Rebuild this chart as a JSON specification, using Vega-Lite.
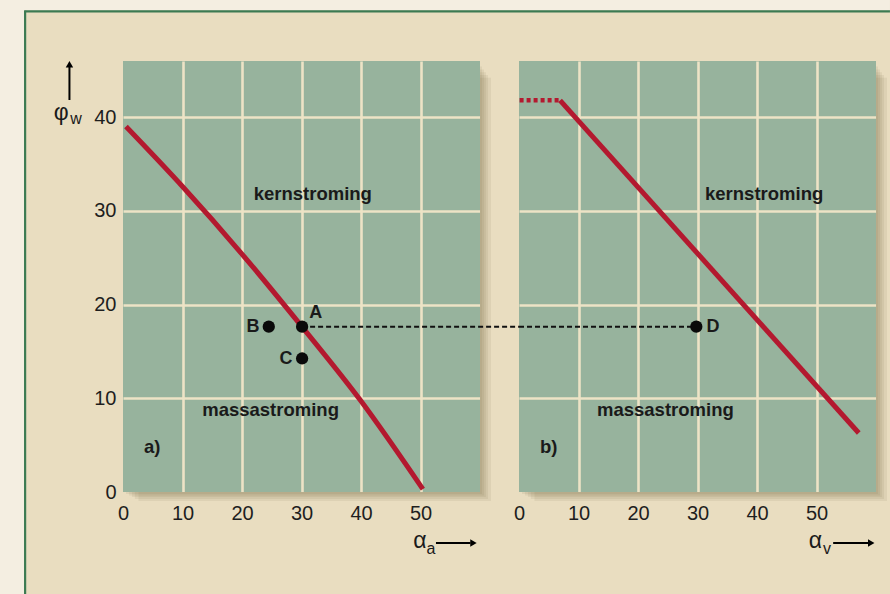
{
  "$schema": "https://vega.github.io/schema/vega-lite/v6.json",
  "background": "#e9ddc0",
  "padding": 0,
  "bounds": "flush",
  "spacing": 39,
  "config": {
    "view": {"fill": "#97b39d", "stroke": null},
    "font": "Liberation Sans, Arial, sans-serif",
    "axis": {
      "title": null,
      "domain": false,
      "ticks": false,
      "labelFlush": false,
      "labelFont": "Liberation Sans, Arial, sans-serif",
      "labelFontSize": 20,
      "labelColor": "#1e1e1e",
      "gridColor": "#ede3c6",
      "gridWidth": 2.6,
      "gridOpacity": {"condition": {"test": "datum.value === 0", "value": 0}, "value": 1}
    },
    "text": {"font": "Liberation Sans, Arial, sans-serif", "color": "#1a1a1a"}
  },
  "datasets": {
    "one": [{"k": 1}],
    "curveA": [
      {"x": 0.5, "y": 39.0},
      {"x": 10, "y": 32.6},
      {"x": 20, "y": 25.4},
      {"x": 30, "y": 17.7},
      {"x": 40, "y": 9.7},
      {"x": 50.4, "y": 0.3}
    ],
    "solidB": [
      {"x": 6.9, "y": 41.8},
      {"x": 57.1, "y": 6.3}
    ],
    "dottedB": [
      {"x": 0.1, "y": 41.8},
      {"x": 6.9, "y": 41.8}
    ],
    "pointsA": [
      {"x": 30.1, "y": 17.65, "name": "A"},
      {"x": 24.5, "y": 17.65, "name": "B"},
      {"x": 30.1, "y": 14.25, "name": "C"}
    ],
    "pointsB": [
      {"x": 29.8, "y": 17.65, "name": "D"}
    ],
    "lettersA": [
      {"x": 32.4, "y": 19.1, "text": "A"},
      {"x": 21.85, "y": 17.6, "text": "B"},
      {"x": 27.4, "y": 14.2, "text": "C"}
    ],
    "lettersB": [
      {"x": 32.6, "y": 17.6, "text": "D"}
    ],
    "regionsA": [
      {"x": 31.9, "y": 31.8, "text": "kernstroming"},
      {"x": 24.8, "y": 8.75, "text": "massastroming"},
      {"x": 4.9, "y": 4.8, "text": "a)"}
    ],
    "regionsB": [
      {"x": 41.2, "y": 31.8, "text": "kernstroming"},
      {"x": 24.6, "y": 8.75, "text": "massastroming"},
      {"x": 5.0, "y": 4.8, "text": "b)"}
    ]
  },
  "hconcat": [
    {
      "width": 357,
      "height": 431,
      "layer": [
        {"data": {"name": "curveA"}, "mark": {"type": "line", "stroke": "#b3192f", "strokeWidth": 5, "strokeCap": "butt", "interpolate": "monotone"},
         "encoding": {
           "x": {"field": "x", "type": "quantitative", "scale": {"domain": [0, 60], "nice": false, "zero": false},
                 "axis": {"values": [0, 10, 20, 30, 40, 50], "labelPadding": 11}},
           "y": {"field": "y", "type": "quantitative", "scale": {"domain": [0, 46], "nice": false, "zero": false},
                 "axis": {"values": [0, 10, 20, 30, 40], "labelPadding": 7}}
         }},
        {"data": {"name": "one"}, "mark": {"type": "rect", "fill": "#f4eee1"},
         "encoding": {"x": {"datum": -20.67, "type": "quantitative"}, "x2": {"datum": -16.6}, "y": {"datum": -10.88, "type": "quantitative"}, "y2": {"datum": 52.51}}},
        {"data": {"name": "one"}, "mark": {"type": "rect", "fill": "#f4eee1"},
         "encoding": {"x": {"datum": -20.67, "type": "quantitative"}, "x2": {"datum": 128.9}, "y": {"datum": 51.4, "type": "quantitative"}, "y2": {"datum": 52.51}}},
        {"data": {"name": "one"}, "mark": {"type": "rule", "stroke": "#3c7a52", "strokeWidth": 2.2},
         "encoding": {"x": {"datum": -16.45, "type": "quantitative"}, "y": {"datum": -10.88, "type": "quantitative"}, "y2": {"datum": 51.35}}},
        {"data": {"name": "one"}, "mark": {"type": "rule", "stroke": "#3c7a52", "strokeWidth": 2.2},
         "encoding": {"x": {"datum": -16.6, "type": "quantitative"}, "x2": {"datum": 128.9}, "y": {"datum": 51.3, "type": "quantitative"}}},

        {"data": {"name": "one"}, "mark": {"type": "rect", "fill": "#5b4a2c", "opacity": 0.08},
         "encoding": {"x": {"datum": 60, "type": "quantitative"}, "x2": {"datum": 61.85}, "y": {"datum": -0.96, "type": "quantitative"}, "y2": {"datum": 44.2}}},
        {"data": {"name": "one"}, "mark": {"type": "rect", "fill": "#5b4a2c", "opacity": 0.08},
         "encoding": {"x": {"datum": 60, "type": "quantitative"}, "x2": {"datum": 61.35}, "y": {"datum": -0.75, "type": "quantitative"}, "y2": {"datum": 44.5}}},
        {"data": {"name": "one"}, "mark": {"type": "rect", "fill": "#5b4a2c", "opacity": 0.08},
         "encoding": {"x": {"datum": 60, "type": "quantitative"}, "x2": {"datum": 61.0}, "y": {"datum": -0.53, "type": "quantitative"}, "y2": {"datum": 44.8}}},
        {"data": {"name": "one"}, "mark": {"type": "rect", "fill": "#5b4a2c", "opacity": 0.08},
         "encoding": {"x": {"datum": 60, "type": "quantitative"}, "x2": {"datum": 60.67}, "y": {"datum": -0.37, "type": "quantitative"}, "y2": {"datum": 45.1}}},
        {"data": {"name": "one"}, "mark": {"type": "rect", "fill": "#5b4a2c", "opacity": 0.08},
         "encoding": {"x": {"datum": 60, "type": "quantitative"}, "x2": {"datum": 60.34}, "y": {"datum": -0.21, "type": "quantitative"}, "y2": {"datum": 45.4}}},
        {"data": {"name": "one"}, "mark": {"type": "rect", "fill": "#5b4a2c", "opacity": 0.08},
         "encoding": {"x": {"datum": 2.6, "type": "quantitative"}, "x2": {"datum": 60}, "y": {"datum": -0.96, "type": "quantitative"}, "y2": {"datum": 0}}},
        {"data": {"name": "one"}, "mark": {"type": "rect", "fill": "#5b4a2c", "opacity": 0.08},
         "encoding": {"x": {"datum": 2.0, "type": "quantitative"}, "x2": {"datum": 60}, "y": {"datum": -0.75, "type": "quantitative"}, "y2": {"datum": 0}}},
        {"data": {"name": "one"}, "mark": {"type": "rect", "fill": "#5b4a2c", "opacity": 0.08},
         "encoding": {"x": {"datum": 1.5, "type": "quantitative"}, "x2": {"datum": 60}, "y": {"datum": -0.53, "type": "quantitative"}, "y2": {"datum": 0}}},
        {"data": {"name": "one"}, "mark": {"type": "rect", "fill": "#5b4a2c", "opacity": 0.08},
         "encoding": {"x": {"datum": 1.0, "type": "quantitative"}, "x2": {"datum": 60}, "y": {"datum": -0.37, "type": "quantitative"}, "y2": {"datum": 0}}},
        {"data": {"name": "one"}, "mark": {"type": "rect", "fill": "#5b4a2c", "opacity": 0.08},
         "encoding": {"x": {"datum": 0.5, "type": "quantitative"}, "x2": {"datum": 60}, "y": {"datum": -0.21, "type": "quantitative"}, "y2": {"datum": 0}}},

        {"data": {"name": "one"}, "mark": {"type": "rule", "stroke": "#111111", "strokeWidth": 2, "strokeDash": [5, 3]},
         "encoding": {"x": {"datum": 30.1, "type": "quantitative"}, "x2": {"datum": 66.55}, "y": {"datum": 17.65, "type": "quantitative"}}},
        {"data": {"name": "pointsA"}, "mark": {"type": "point", "filled": true, "fill": "#0a0a0a", "size": 150, "opacity": 1},
         "encoding": {"x": {"field": "x", "type": "quantitative"}, "y": {"field": "y", "type": "quantitative"}}},
        {"data": {"name": "lettersA"}, "mark": {"type": "text", "fontSize": 18, "fontWeight": "bold", "align": "center", "baseline": "middle"},
         "encoding": {"x": {"field": "x", "type": "quantitative"}, "y": {"field": "y", "type": "quantitative"}, "text": {"field": "text"}}},
        {"data": {"name": "regionsA"}, "mark": {"type": "text", "fontSize": 18.5, "fontWeight": "bold", "align": "center", "baseline": "middle"},
         "encoding": {"x": {"field": "x", "type": "quantitative"}, "y": {"field": "y", "type": "quantitative"}, "text": {"field": "text"}}},

        {"data": {"name": "one"}, "mark": {"type": "text", "text": "φ", "fontSize": 23, "align": "center", "baseline": "alphabetic"},
         "encoding": {"x": {"datum": -10.4, "type": "quantitative"}, "y": {"datum": 39.75, "type": "quantitative"}}},
        {"data": {"name": "one"}, "mark": {"type": "text", "text": "w", "fontSize": 16, "align": "center", "baseline": "alphabetic"},
         "encoding": {"x": {"datum": -7.9, "type": "quantitative"}, "y": {"datum": 39.3, "type": "quantitative"}}},
        {"data": {"name": "one"}, "mark": {"type": "rule", "stroke": "#000000", "strokeWidth": 2},
         "encoding": {"x": {"datum": -9.0, "type": "quantitative"}, "y": {"datum": 41.84, "type": "quantitative"}, "y2": {"datum": 45.4}}},
        {"data": {"name": "one"}, "mark": {"type": "point", "shape": "triangle-up", "filled": true, "fill": "#000000", "size": 55, "opacity": 1},
         "encoding": {"x": {"datum": -9.0, "type": "quantitative"}, "y": {"datum": 45.65, "type": "quantitative"}}},

        {"data": {"name": "one"}, "mark": {"type": "text", "text": "α", "fontSize": 23, "align": "center", "baseline": "alphabetic"},
         "encoding": {"x": {"datum": 49.9, "type": "quantitative"}, "y": {"datum": -5.98, "type": "quantitative"}}},
        {"data": {"name": "one"}, "mark": {"type": "text", "text": "a", "fontSize": 16, "align": "center", "baseline": "alphabetic"},
         "encoding": {"x": {"datum": 51.76, "type": "quantitative"}, "y": {"datum": -6.62, "type": "quantitative"}}},
        {"data": {"name": "one"}, "mark": {"type": "rule", "stroke": "#000000", "strokeWidth": 2},
         "encoding": {"x": {"datum": 52.6, "type": "quantitative"}, "x2": {"datum": 58.4}, "y": {"datum": -5.44, "type": "quantitative"}}},
        {"data": {"name": "one"}, "mark": {"type": "point", "shape": "triangle-right", "filled": true, "fill": "#000000", "size": 55, "opacity": 1},
         "encoding": {"x": {"datum": 58.9, "type": "quantitative"}, "y": {"datum": -5.44, "type": "quantitative"}}}
      ]
    },
    {
      "width": 357,
      "height": 431,
      "layer": [
        {"data": {"name": "solidB"}, "mark": {"type": "line", "stroke": "#b3192f", "strokeWidth": 5, "strokeCap": "butt"},
         "encoding": {
           "x": {"field": "x", "type": "quantitative", "scale": {"domain": [0, 60], "nice": false, "zero": false},
                 "axis": {"values": [0, 10, 20, 30, 40, 50], "labelPadding": 11}},
           "y": {"field": "y", "type": "quantitative", "scale": {"domain": [0, 46], "nice": false, "zero": false},
                 "axis": {"values": [0, 10, 20, 30, 40], "labels": false}}
         }},
        {"data": {"name": "dottedB"}, "mark": {"type": "line", "stroke": "#b3192f", "strokeWidth": 4.5, "strokeDash": [4, 3], "strokeCap": "butt"},
         "encoding": {"x": {"field": "x", "type": "quantitative"}, "y": {"field": "y", "type": "quantitative"}}},

        {"data": {"name": "one"}, "mark": {"type": "rect", "fill": "#5b4a2c", "opacity": 0.08},
         "encoding": {"x": {"datum": 60, "type": "quantitative"}, "x2": {"datum": 61.85}, "y": {"datum": -0.96, "type": "quantitative"}, "y2": {"datum": 44.2}}},
        {"data": {"name": "one"}, "mark": {"type": "rect", "fill": "#5b4a2c", "opacity": 0.08},
         "encoding": {"x": {"datum": 60, "type": "quantitative"}, "x2": {"datum": 61.35}, "y": {"datum": -0.75, "type": "quantitative"}, "y2": {"datum": 44.5}}},
        {"data": {"name": "one"}, "mark": {"type": "rect", "fill": "#5b4a2c", "opacity": 0.08},
         "encoding": {"x": {"datum": 60, "type": "quantitative"}, "x2": {"datum": 61.0}, "y": {"datum": -0.53, "type": "quantitative"}, "y2": {"datum": 44.8}}},
        {"data": {"name": "one"}, "mark": {"type": "rect", "fill": "#5b4a2c", "opacity": 0.08},
         "encoding": {"x": {"datum": 60, "type": "quantitative"}, "x2": {"datum": 60.67}, "y": {"datum": -0.37, "type": "quantitative"}, "y2": {"datum": 45.1}}},
        {"data": {"name": "one"}, "mark": {"type": "rect", "fill": "#5b4a2c", "opacity": 0.08},
         "encoding": {"x": {"datum": 60, "type": "quantitative"}, "x2": {"datum": 60.34}, "y": {"datum": -0.21, "type": "quantitative"}, "y2": {"datum": 45.4}}},
        {"data": {"name": "one"}, "mark": {"type": "rect", "fill": "#5b4a2c", "opacity": 0.08},
         "encoding": {"x": {"datum": 2.6, "type": "quantitative"}, "x2": {"datum": 60}, "y": {"datum": -0.96, "type": "quantitative"}, "y2": {"datum": 0}}},
        {"data": {"name": "one"}, "mark": {"type": "rect", "fill": "#5b4a2c", "opacity": 0.08},
         "encoding": {"x": {"datum": 2.0, "type": "quantitative"}, "x2": {"datum": 60}, "y": {"datum": -0.75, "type": "quantitative"}, "y2": {"datum": 0}}},
        {"data": {"name": "one"}, "mark": {"type": "rect", "fill": "#5b4a2c", "opacity": 0.08},
         "encoding": {"x": {"datum": 1.5, "type": "quantitative"}, "x2": {"datum": 60}, "y": {"datum": -0.53, "type": "quantitative"}, "y2": {"datum": 0}}},
        {"data": {"name": "one"}, "mark": {"type": "rect", "fill": "#5b4a2c", "opacity": 0.08},
         "encoding": {"x": {"datum": 1.0, "type": "quantitative"}, "x2": {"datum": 60}, "y": {"datum": -0.37, "type": "quantitative"}, "y2": {"datum": 0}}},
        {"data": {"name": "one"}, "mark": {"type": "rect", "fill": "#5b4a2c", "opacity": 0.08},
         "encoding": {"x": {"datum": 0.5, "type": "quantitative"}, "x2": {"datum": 60}, "y": {"datum": -0.21, "type": "quantitative"}, "y2": {"datum": 0}}},

        {"data": {"name": "one"}, "mark": {"type": "rule", "stroke": "#111111", "strokeWidth": 2, "strokeDash": [5, 3]},
         "encoding": {"x": {"datum": 0, "type": "quantitative"}, "x2": {"datum": 29.8}, "y": {"datum": 17.65, "type": "quantitative"}}},
        {"data": {"name": "pointsB"}, "mark": {"type": "point", "filled": true, "fill": "#0a0a0a", "size": 150, "opacity": 1},
         "encoding": {"x": {"field": "x", "type": "quantitative"}, "y": {"field": "y", "type": "quantitative"}}},
        {"data": {"name": "lettersB"}, "mark": {"type": "text", "fontSize": 18, "fontWeight": "bold", "align": "center", "baseline": "middle"},
         "encoding": {"x": {"field": "x", "type": "quantitative"}, "y": {"field": "y", "type": "quantitative"}, "text": {"field": "text"}}},
        {"data": {"name": "regionsB"}, "mark": {"type": "text", "fontSize": 18.5, "fontWeight": "bold", "align": "center", "baseline": "middle"},
         "encoding": {"x": {"field": "x", "type": "quantitative"}, "y": {"field": "y", "type": "quantitative"}, "text": {"field": "text"}}},

        {"data": {"name": "one"}, "mark": {"type": "text", "text": "α", "fontSize": 23, "align": "center", "baseline": "alphabetic"},
         "encoding": {"x": {"datum": 49.83, "type": "quantitative"}, "y": {"datum": -5.98, "type": "quantitative"}}},
        {"data": {"name": "one"}, "mark": {"type": "text", "text": "v", "fontSize": 16, "align": "center", "baseline": "alphabetic"},
         "encoding": {"x": {"datum": 51.76, "type": "quantitative"}, "y": {"datum": -6.62, "type": "quantitative"}}},
        {"data": {"name": "one"}, "mark": {"type": "rule", "stroke": "#000000", "strokeWidth": 2},
         "encoding": {"x": {"datum": 52.8, "type": "quantitative"}, "x2": {"datum": 58.7}, "y": {"datum": -5.44, "type": "quantitative"}}},
        {"data": {"name": "one"}, "mark": {"type": "point", "shape": "triangle-right", "filled": true, "fill": "#000000", "size": 55, "opacity": 1},
         "encoding": {"x": {"datum": 59.2, "type": "quantitative"}, "y": {"datum": -5.44, "type": "quantitative"}}}
      ]
    }
  ]
}
